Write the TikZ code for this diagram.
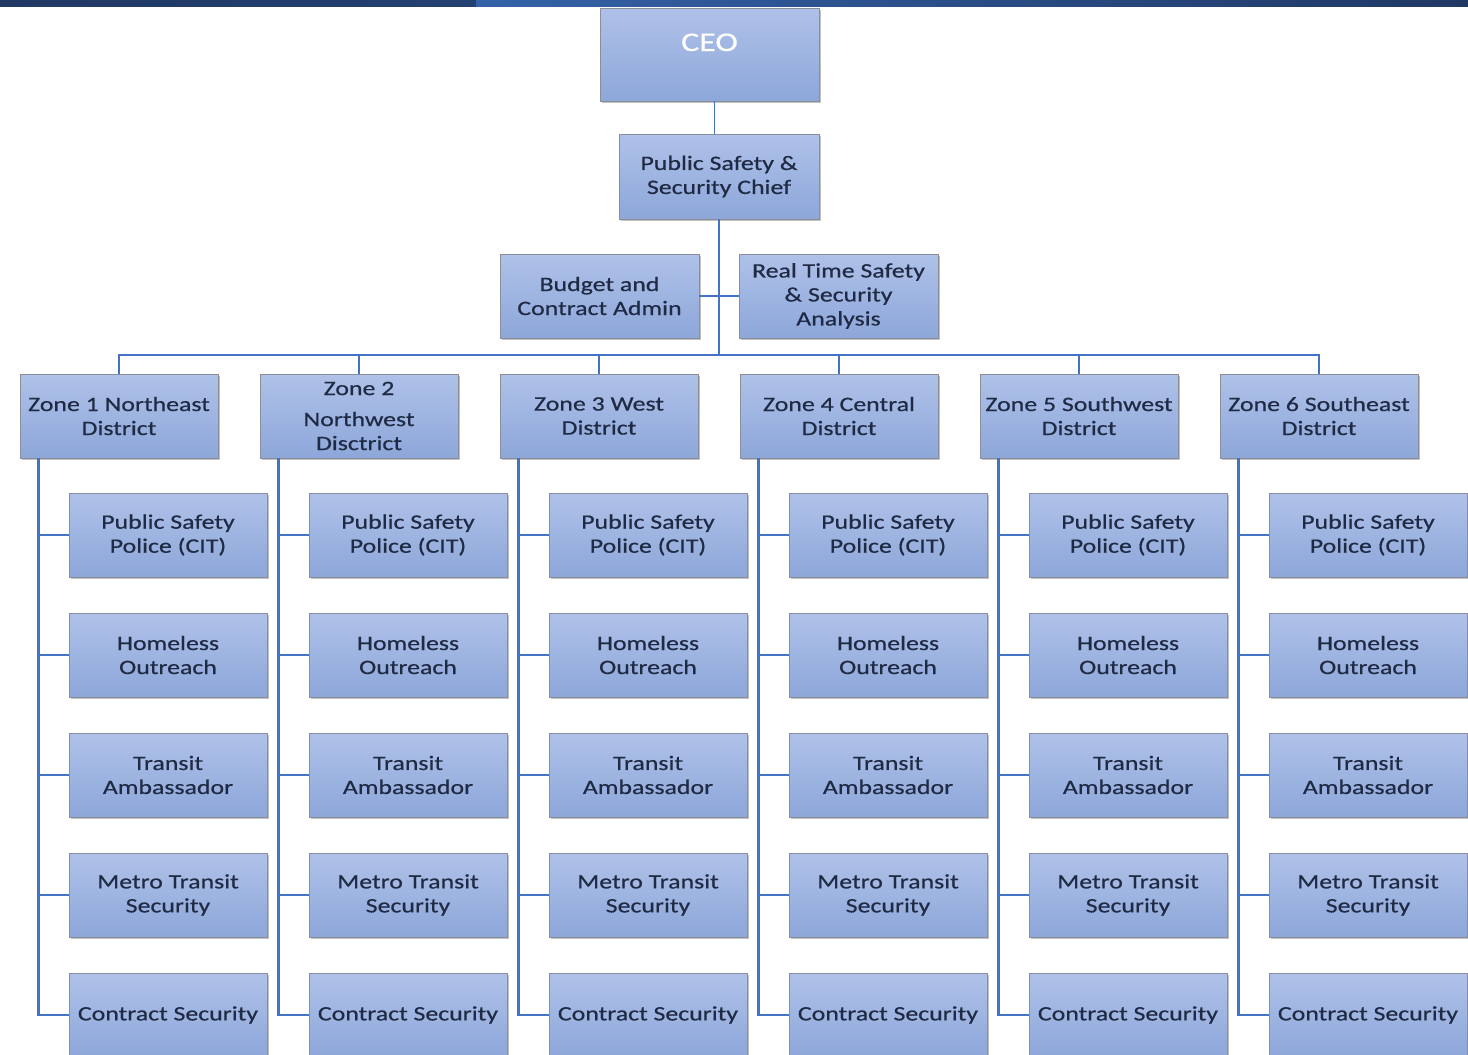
\documentclass[tikz,border=0pt]{standalone}
\usepackage{fontspec}
\setmainfont{Carlito}[FakeStretch=1.26, FakeBold=0.5]
\usetikzlibrary{positioning,shadows}
\definecolor{boxtop}{HTML}{AFC1E8}
\definecolor{boxbot}{HTML}{8DA7DA}
\definecolor{boxline}{HTML}{8A8E99}
\definecolor{linkblue}{HTML}{4472C4}
\definecolor{textnavy}{HTML}{1F2A44}
\definecolor{barnavy}{HTML}{203864}
\definecolor{barblue}{HTML}{3462A8}

\begin{document}
\begin{tikzpicture}[x=1pt,y=-1pt]
 \tikzstyle{every node}=[font=\fontsize{20.5}{24}\selectfont, text=textnavy]
 \tikzstyle{unit}=[draw=boxline, line width=0.8pt, top color=boxtop, bottom color=boxbot,
   align=center, minimum width=198pt, minimum height=84pt, inner sep=1pt,
   drop shadow={shadow xshift=1.5pt, shadow yshift=-1.5pt, opacity=0.35, fill=black!70}]
 \tikzstyle{link}=[draw=linkblue, line width=2.4pt]
 \clip (0,0) rectangle (1468,1055);
 % banner strip
 \fill[left color=barnavy, right color=barnavy!80!barblue] (0,0) rectangle (476,6);
 \fill[left color=barblue, right color=barnavy] (476,0) rectangle (1468,6);

 \node[unit, minimum width=219pt, minimum height=93pt, text=white,
   font=\fontsize{27}{32}\selectfont, text height=20pt, text depth=27pt] (ceo) at (709.5,54.5) {CEO};
 \node[unit, minimum width=200pt, minimum height=85pt] (chief) at (719,176.5) {Public Safety \&\\Security Chief};
 \node[unit, minimum width=199pt] (budget) at (599.5,296) {Budget and\\Contract Admin};
 \node[unit, minimum width=199pt] (rtsa) at (838.5,296) {Real Time Safety\\\& Security\\Analysis};
 \coordinate (bus) at (718,355);

 \draw[draw=linkblue, line width=1pt] ([xshift=4.5pt]ceo.south) -- ([xshift=-5pt]chief.north);
 \draw[link] (chief.south) -- (chief.south |- bus);
 \draw[link] (budget.east) -- (rtsa.west);

 \foreach \z/\ztext in {1/{Zone 1 Northeast\\District}, 2/{Zone 2\\[7pt]Northwest\\Disctrict},
   3/{Zone 3 West\\District}, 4/{Zone 4 Central\\District},
   5/{Zone 5 Southwest\\District}, 6/{Zone 6 Southeast\\District}} {
   \node[unit] (z\z) at ({119+240*(\z-1)},416) {\ztext};
   \draw[link] (z\z.north) -- (z\z.north |- bus);
 }
 \draw[link] ([xshift=-1.2pt]z1.north |- bus) -- ([xshift=1.2pt]z6.north |- bus);

 \foreach \z in {1,...,6}
   \foreach \r/\rtext in {1/{Public Safety\\Police (CIT)}, 2/{Homeless\\Outreach},
     3/{Transit\\Ambassador}, 4/{Metro Transit\\Security}, 5/{Contract Security}} {
     \node[unit] (c\z\r) at ({168+240*(\z-1)},{535+120*(\r-1)}) {\rtext};
     \draw[link] ([xshift=19pt]z\z.south west) |- (c\z\r.west);
   }
\end{tikzpicture}
\end{document}
